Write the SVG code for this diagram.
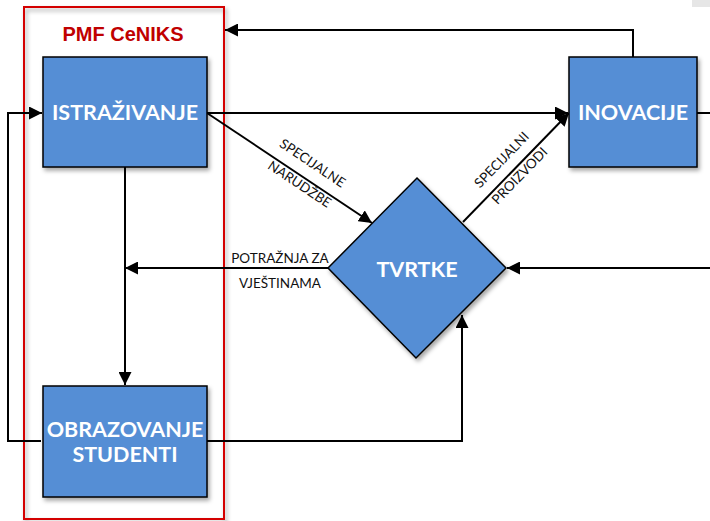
<svg xmlns="http://www.w3.org/2000/svg" width="710" height="521" viewBox="0 0 710 521">
<defs>
<style>
.box{fill:#558ed5;stroke:#000;stroke-width:1.5}
.lbl{font-family:Lato,"Open Sans","Liberation Sans",sans-serif;font-weight:bold;fill:#fff;font-size:21.5px;text-anchor:middle}
.ln{fill:none;stroke:#000;stroke-width:2}
.sm{font-family:Lato,"Open Sans","Liberation Sans",sans-serif;font-size:13.5px;fill:#111;text-anchor:middle}
</style>
<marker id="a" viewBox="0 0 10 10" refX="10" refY="5" markerWidth="6.5" markerHeight="6.5" orient="auto">
<path d="M0,0 L10,5 L0,10 z" fill="#000"/>
</marker>
<filter id="sh" x="-10%" y="-10%" width="130%" height="130%">
<feDropShadow dx="2" dy="3" stdDeviation="2" flood-color="#000" flood-opacity="0.35"/>
</filter>
</defs>
<rect x="0" y="0" width="710" height="521" fill="#fff"/>
<rect x="692" y="0" width="18" height="7" fill="#e6e6e6"/>

<g id="pmf-ceniks">
<rect x="24" y="7" width="200" height="512" fill="none" stroke="#d40000" stroke-width="2" filter="url(#sh)"/>
<text x="123" y="41" font-family="'Liberation Sans',Arial,sans-serif" font-weight="bold" font-size="20" fill="#c00000" text-anchor="middle">PMF CeNIKS</text>
</g>

<g id="connectors">
<path class="ln" d="M207,113 H568" marker-end="url(#a)"/>
<path class="ln" d="M207,113 L372,223" marker-end="url(#a)"/>
<path class="ln" d="M463,222 L569,113" marker-end="url(#a)"/>
<path class="ln" d="M633,57 V30 H225" marker-end="url(#a)"/>
<path class="ln" d="M697,113 H710"/>
<path class="ln" d="M710,268 H507" marker-end="url(#a)"/>
<path class="ln" d="M328,268 H125" marker-end="url(#a)"/>
<path class="ln" d="M125,167 V385" marker-end="url(#a)"/>
<path class="ln" d="M41,441 H8 V113 H42" marker-end="url(#a)"/>
<path class="ln" d="M207,441 H462 V315" marker-end="url(#a)"/>
<text class="sm" transform="translate(310,167) rotate(33.7)">SPECIJALNE</text>
<text class="sm" transform="translate(297,188) rotate(33.7)">NARUDŽBE</text>
<text class="sm" transform="translate(505,163) rotate(-45.8)">SPECIJALNI</text>
<text class="sm" transform="translate(523,179) rotate(-45.8)">PROIZVODI</text>
<text class="sm" x="280" y="263">POTRAŽNJA ZA</text>
<text class="sm" x="280" y="288">VJEŠTINAMA</text>
</g>

<g id="istrazivanje">
<rect class="box" x="43" y="57" width="164" height="110" filter="url(#sh)"/>
<text class="lbl" x="125" y="120">ISTRAŽIVANJE</text>
</g>

<g id="inovacije">
<rect class="box" x="569" y="57" width="128" height="110" filter="url(#sh)"/>
<text class="lbl" x="633" y="120">INOVACIJE</text>
</g>

<g id="obrazovanje">
<rect class="box" x="43" y="386" width="164" height="111" filter="url(#sh)"/>
<text class="lbl" x="125" y="437">OBRAZOVANJE</text>
<text class="lbl" x="125" y="462">STUDENTI</text>
</g>

<g id="tvrtke">
<polygon class="box" points="417,178 506,268 416,358 328,268" filter="url(#sh)"/>
<text class="lbl" x="417" y="277">TVRTKE</text>
</g>
</svg>
